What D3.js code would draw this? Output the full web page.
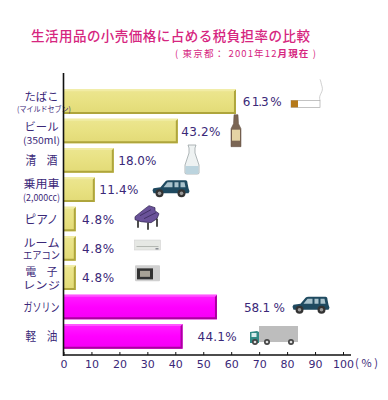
<!DOCTYPE html>
<html>
<head>
<meta charset="utf-8">
<script src="https://cdn.jsdelivr.net/npm/d3@7"></script>
<style>
body { margin: 0; background: #fff; }
text { font-family: "Noto Sans CJK JP", "Noto Sans", sans-serif; }
</style>
</head>
<body>
<svg id="chart" width="388" height="400"></svg>
<script>
const categories = ["たばこ", "ビール", "清　酒", "乗用車", "ピアノ", "ルーム", "電　子", "ガソリン", "軽　油"];
const subLabels = ["(マイルドセブン)", "(350ml)", "", "(2,000cc)", "", "エアコン", "レンジ", "", ""];
// bar lengths as drawn in the picture (they don't quite agree with the printed labels)
const barValues = [61.7, 40.9, 18.0, 11.2, 4.4, 4.4, 4.4, 54.9, 42.6];
const printedValues = ["6 1.3 %", "43.2%", "18.0%", "11.4%", "4.8%", "4.8%", "4.8%", "58.1 %", "44.1%"];
const barGroups = ["goods", "goods", "goods", "goods", "goods", "goods", "goods", "fuel", "fuel"];
const xTicks = [0, 10, 20, 30, 40, 50, 60, 70, 80, 90, 100];

const ink = "#3a2878";
const svg = d3.select("#chart");

svg.append("text")
    .attr("x", 31).attr("y", 41)
    .attr("textLength", 279)
    .style("font-size", "13.5px")
    .style("font-weight", 500)
    .style("fill", "#d6267f")
    .text("生活用品の小売価格に占める税負担率の比較");

const subtitle = svg.append("text")
    .attr("x", 175).attr("y", 57)
    .attr("textLength", 141)
    .style("font-size", "9.5px")
    .style("fill", "#d6267f");
subtitle.append("tspan").text("( 東京都： 2001年12");
subtitle.append("tspan").style("font-weight", 700).text("月現在");
subtitle.append("tspan").text(" )");

const x = d3.scaleLinear().domain([0, 100]).range([63.5, 343]);
const y = d3.scaleBand().domain(categories).range([87, 351]).paddingInner(0.16).paddingOuter(0.08);

const defs = svg.append("defs");
const fills = {
    goods: { id: "barGoods", stops: ["#ece690", "#e8e182", "#e2da76"], light: "#f1eca4", dark: "#aea53c" },
    fuel: { id: "barFuel", stops: ["#ff20ff", "#ff00ff", "#f400f4"], light: "#ff55ff", dark: "#aa009f" }
};
Object.values(fills).forEach(f => {
    const g = defs.append("linearGradient").attr("id", f.id).attr("x1", 0).attr("x2", 0).attr("y1", 0).attr("y2", 1);
    f.stops.forEach((c, i) => g.append("stop").attr("offset", i / 2).attr("stop-color", c));
});

// bevelled bars
const rows = categories.map((c, i) => ({ c, i, sub: subLabels[i], v: barValues[i], label: printedValues[i], group: barGroups[i] }));
const bar = svg.selectAll(".bar").data(rows).enter().append("g").attr("class", "bar");
const bevel = 2;
bar.append("rect")
    .attr("x", x(0))
    .attr("y", d => y(d.c))
    .attr("width", d => x(d.v) - x(0))
    .attr("height", y.bandwidth())
    .attr("fill", d => `url(#${fills[d.group].id})`);
bar.append("path")
    .attr("fill", d => fills[d.group].dark)
    .attr("d", d => {
        const x1 = x(d.v), y0 = y(d.c), y1 = y0 + y.bandwidth();
        return `M${x1},${y0}L${x1},${y1}L${x(0)},${y1}L${x(0)},${y1 - bevel}L${x1 - bevel},${y1 - bevel}L${x1 - bevel},${y0 + bevel}Z`;
    });
bar.append("path")
    .attr("fill", d => fills[d.group].light)
    .attr("d", d => {
        const x1 = x(d.v), y0 = y(d.c);
        return `M${x(0)},${y0}L${x1},${y0}L${x1 - bevel},${y0 + bevel}L${x(0)},${y0 + bevel}Z`;
    });

// printed percentages sit at uneven gaps from the bar ends
const labelGaps = [6.7, 3.5, 4.5, 4.5, 6.3, 6.3, 6.3, 27, 15];
const labelWidths = [39, 39, 38, 39, 32, 32, 32, 41, 39];
svg.selectAll(".pct").data(rows).enter().append("text")
    .attr("class", "pct")
    .attr("x", d => x(d.v) + labelGaps[d.i])
    .attr("y", d => y(d.c) + y.bandwidth() / 2 + 4.5)
    .attr("textLength", d => labelWidths[d.i])
    .style("font-family", '"DejaVu Sans", sans-serif')
    .style("font-size", "12px")
    .style("fill", ink)
    .text(d => d.label);

// row labels, one or two lines
const mainWidths = [34, 34, 32, 36, 34, 36, 32, 36, 32];
const mainShift = [-1, 0, 0, -2, 0, -1.5, -2, 0, 0];
const subShift = [10, 12.5, 0, 11, 0, 10.5, 11.5, 0, 0];
const rowText = svg.selectAll(".cat").data(rows).enter().append("g").attr("class", "cat")
    .attr("transform", d => `translate(41.5,${y(d.c) + y.bandwidth() / 2})`)
    .attr("text-anchor", "middle")
    .style("fill", ink);
rowText.append("text")
    .attr("y", d => d.sub ? mainShift[d.i] : 4.5)
    .attr("textLength", d => mainWidths[d.i])
    .attr("lengthAdjust", "spacingAndGlyphs")
    .style("font-size", d => d.sub ? "11px" : "12px")
    .text(d => d.c);
rowText.filter(d => d.sub).append("text")
    .attr("y", d => subShift[d.i])
    .attr("x", d => d.i === 0 ? 2.5 : 0)
    .attr("textLength", d => d.i === 0 ? 54 : 37)
    .attr("lengthAdjust", "spacingAndGlyphs")
    .style("font-size", d => d.i === 0 ? "7.5px" : (d.i === 5 || d.i === 6 ? "10.5px" : "9.5px"))
    .text(d => d.sub);

// axes
const axis = svg.append("g")
    .attr("transform", "translate(0,355)")
    .call(d3.axisBottom(x).tickValues(xTicks).tickSize(-3).tickPadding(5));
axis.select(".domain").remove();
axis.selectAll("line").attr("stroke", "#111");
axis.selectAll("text").style("font-size", "11px").style("fill", ink)
    .style("font-family", '"DejaVu Sans", sans-serif');

svg.append("line").attr("x1", 63).attr("x2", 351).attr("y1", 355).attr("y2", 355)
    .attr("stroke", "#111").attr("stroke-width", 1.6);
svg.append("line").attr("x1", 63.5).attr("x2", 63.5).attr("y1", 73).attr("y2", 356)
    .attr("stroke", "#111").attr("stroke-width", 1.6);
svg.append("text").attr("x", 355).attr("y", 367)
    .style("font-size", "11px").style("fill", ink).attr("textLength", 23).text("(%)");

// little pictures beside the bars
function wheel(g, cx, cy, r, tyre, hub) {
    g.append("circle").attr("cx", cx).attr("cy", cy).attr("r", r).attr("fill", tyre);
    g.append("circle").attr("cx", cx).attr("cy", cy).attr("r", r * 0.45).attr("fill", hub);
}

function drawCar(g) {
    g.append("path").attr("fill", "#1f4a60")
        .attr("d", "M1,8 L8,7 L13,1 Q14,0 16,0 L33,0 Q35,0 35,3 L36,8 L37,11 L36,13 L1,13 L0,10Z");
    g.append("path").attr("fill", "#a9c2cc")
        .attr("d", "M11,7 L15,2 L20,2 L20,7Z M22,2 L26,2 L26,7 L22,7Z M28,2 L32,2 L33,7 L28,7Z");
    wheel(g, 7, 13, 4, "#333", "#999");
    wheel(g, 29, 13, 4, "#333", "#999");
}

const iconDraw = {
    cigarette(g) {
        g.append("rect").attr("x", 0).attr("y", 0).attr("width", 29).attr("height", 7).attr("fill", "#fff").attr("stroke", "#aaa").attr("stroke-width", 0.7);
        g.append("rect").attr("x", 0).attr("y", 0).attr("width", 7).attr("height", 7).attr("fill", "#b5791a");
        g.append("path").attr("fill", "none").attr("stroke", "#bbb").attr("stroke-width", 0.7)
            .attr("d", "M29,0 C27,-6 33,-8 31,-14 C30,-17 30,-19 29,-21");
    },
    beer(g) {
        g.append("path").attr("fill", "#7b6654").attr("stroke", "#5e4b3e").attr("stroke-width", 0.5)
            .attr("d", "M3,0 L7,0 L7.5,9 L10,14 L10,32 L0,32 L0,14 L2.5,9Z");
        g.append("rect").attr("x", 1).attr("y", 15).attr("width", 8).attr("height", 11).attr("fill", "#e4d3a4");
    },
    sake(g) {
        g.append("path").attr("fill", "#eef2f2").attr("stroke", "#8f9a9c").attr("stroke-width", 0.7)
            .attr("d", "M3,0 L11,0 L10,3 L10,8 L14,20 L14,28 Q14,29 12,29 L2,29 Q0,29 0,28 L0,20 L4,8 L4,3Z");
        g.append("path").attr("fill", "#bcd4de").attr("d", "M0.5,21 L13.5,21 L13.5,28 Q13.5,29 12,29 L2,29 Q0.5,29 0.5,28Z");
    },
    car: drawCar,
    piano(g) {
        g.append("path").attr("fill", "#6a5299").attr("stroke", "#2f2350").attr("stroke-width", 0.7)
            .attr("d", "M0,11 L10,3 L14,0 L20,2 L20,5 L24,8 L22,13 L16,17 L6,16 L0,14Z");
        g.append("path").attr("fill", "none").attr("stroke", "#2f2350").attr("stroke-width", 0.7).attr("d", "M5,10 L16,4 M9,13 L21,7");
        g.append("path").attr("fill", "none").attr("stroke", "#222").attr("stroke-width", 1.6).attr("d", "M3,15 L3,22 M13,17 L13,24 M22,13 L22,21");
    },
    aircon(g) {
        g.append("rect").attr("x", 0).attr("y", 0).attr("width", 26).attr("height", 10).attr("fill", "#e6e8e4").attr("stroke", "#ccc").attr("stroke-width", 0.5);
        g.append("rect").attr("x", 2).attr("y", 6).attr("width", 22).attr("height", 1).attr("fill", "#b4b8b2");
        g.append("rect").attr("x", 21).attr("y", 8).attr("width", 3).attr("height", 1.5).attr("fill", "#8a8f94");
    },
    microwave(g) {
        g.append("rect").attr("x", 0).attr("y", 0).attr("width", 25).attr("height", 16).attr("fill", "#d0d0d0").attr("rx", 1);
        g.append("rect").attr("x", 2).attr("y", 3).attr("width", 16).attr("height", 11).attr("fill", "#333");
        g.append("rect").attr("x", 5).attr("y", 5.5).attr("width", 10).attr("height", 6).attr("fill", "#a8a296");
    },
    truck(g) {
        g.append("rect").attr("x", 9).attr("y", 0).attr("width", 39).attr("height", 16).attr("fill", "#bdbdbd");
        g.append("path").attr("fill", "#2f8a85").attr("d", "M0,6 L7,5 L9,6 L9,17 L0,17Z");
        g.append("rect").attr("x", 1.5).attr("y", 7).attr("width", 5).attr("height", 4).attr("fill", "#d8eeee");
        wheel(g, 5, 16, 3, "#444", "#ddd");
        wheel(g, 17, 16, 3, "#444", "#ddd");
        wheel(g, 41, 16, 3, "#444", "#ddd");
    }
};

const iconNames = ["cigarette", "beer", "sake", "car", "piano", "aircon", "microwave", "car", "truck"];
const iconX = [291, 231, 185, 152.5, 135, 134.5, 135, 292.5, 250];
const iconDy = [11, -4, -3, 3, -1, 4, 0, 2, 2];
iconNames.forEach((name, i) => {
    const g = svg.append("g")
        .attr("transform", `translate(${iconX[i]},${y(categories[i]) + iconDy[i]})`);
    iconDraw[name](g);
});
</script>
</body>
</html>
